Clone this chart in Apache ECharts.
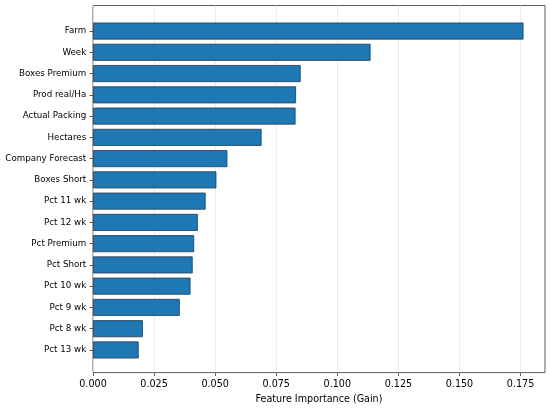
<!DOCTYPE html>
<html>
<head>
<meta charset="utf-8">
<title>Feature Importance</title>
<script src="https://cdn.jsdelivr.net/npm/echarts@6/dist/echarts.min.js"></script>
<style>
  html, body { margin: 0; padding: 0; background: #fff; }
  #box { width: 550px; height: 409px; }
</style>
</head>
<body>
<div id="box"></div>
<script>
// 特征名称（从上到下）
var features = ['Farm', 'Week', 'Boxes Premium', 'Prod real/Ha', 'Actual Packing', 'Hectares',
  'Company Forecast', 'Boxes Short', 'Pct 11 wk', 'Pct 12 wk', 'Pct Premium', 'Pct Short',
  'Pct 10 wk', 'Pct 9 wk', 'Pct 8 wk', 'Pct 13 wk'];
// 重要性（Gain）
var gains = [0.1762, 0.1136, 0.0850, 0.0831, 0.0829, 0.0690,
  0.0550, 0.0505, 0.0461, 0.0429, 0.0414, 0.0408,
  0.0399, 0.0355, 0.0204, 0.0187];
// x 轴刻度
var xTicks = [0, 0.025, 0.05, 0.075, 0.1, 0.125, 0.15, 0.175];

var FONT = 'DejaVu Sans';
var xMax = 0.185;

var myChart = echarts.init(document.getElementById('box'));
var option = {
  animation: false,
  textStyle: { fontFamily: FONT },
  grid: [
    // 外框 + x 轴
    { left: 93, right: 5, top: 5.5, bottom: 34.5, show: true, borderColor: '#333', borderWidth: 0.8, containLabel: false },
    // 条形
    { left: 93, right: 5, top: 20.4, bottom: 48.4, containLabel: false }
  ],
  xAxis: [
    {
      gridIndex: 0, type: 'value', min: 0, max: xMax, interval: 0.025,
      name: 'Feature Importance (Gain)', nameLocation: 'middle', nameGap: 19,
      nameTextStyle: { fontFamily: FONT, fontSize: 9.6, color: '#000' },
      axisLine: { show: false },
      axisTick: { show: true, inside: false, length: 3.4, lineStyle: { color: '#333', width: 0.8 }, customValues: xTicks },
      axisLabel: { fontFamily: FONT, fontSize: 9.6, color: '#000', margin: 6.5, customValues: xTicks,
        formatter: function (v) { return v.toFixed(3); } },
      splitLine: { show: true, lineStyle: { color: '#e6e6e6', width: 0.8 } }
    },
    {
      gridIndex: 1, type: 'value', min: 0, max: xMax, show: false,
      splitLine: { show: false }
    }
  ],
  yAxis: [
    { gridIndex: 0, type: 'value', show: false, splitLine: { show: false } },
    {
      gridIndex: 1, type: 'category', data: features, inverse: true,
      axisLine: { show: false },
      axisTick: { show: true, alignWithLabel: true, length: 3.4, lineStyle: { color: '#333', width: 0.8 } },
      axisLabel: { fontFamily: FONT, fontSize: 8.7, color: '#000', margin: 6.8 },
      splitLine: { show: false }
    }
  ],
  series: [{
    type: 'bar',
    xAxisIndex: 1,
    yAxisIndex: 1,
    data: gains,
    barCategoryGap: '20%',
    itemStyle: { color: '#1f77b4', borderColor: '#233a4d', borderWidth: 0.8 }
  }]
};
myChart.setOption(option);
</script>
</body>
</html>
